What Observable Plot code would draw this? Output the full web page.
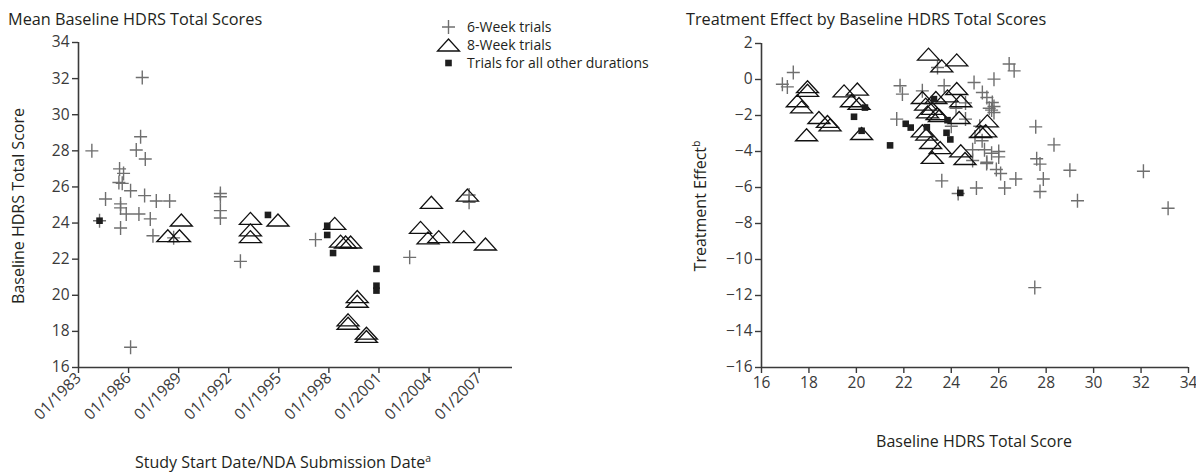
<!DOCTYPE html>
<html>
<head>
<meta charset="utf-8">
<script src="https://cdn.jsdelivr.net/npm/d3@7"></script>
<script src="https://cdn.jsdelivr.net/npm/@observablehq/plot@0.6"></script>
<style>
  body { margin: 0; background: #fff; }
  #wrap { position: relative; width: 1196px; height: 473px; overflow: hidden; font-family: "Open Sans", sans-serif; color: #231f20; }
  #wrap svg.plot { position: absolute; top: 0; }
  .t { position: absolute; white-space: nowrap; font-size: 16px; color: #231f20; line-height: 1; }
  .rot { transform: translate(-50%, -50%) rotate(-90deg); transform-origin: center; }
  sup { font-size: 0.65em; vertical-align: 0; position: relative; top: -0.55em; }
  [aria-label$="tick"] path { stroke-width: 1.4px; }
  #legend { position: absolute; left: 436px; top: 18px; font-size: 14px; }
  #legend div { position: relative; height: 18px; line-height: 18px; }
  #legend svg { position: absolute; left: 0; top: 0; }
  #legend span { position: absolute; left: 31px; top: 0; white-space: nowrap; }
</style>
</head>
<body>
<div id="wrap"></div>
<script>
// ---------- Data ----------
// Left panel: study start date (decimal year) vs mean baseline HDRS total score
const dates6 = [1983.80, 1986.82, 1986.72, 1986.46, 1987.00, 1985.46, 1985.70, 1985.42, 1985.62, 1984.62,
  1985.52, 1985.52, 1986.12, 1986.96, 1987.66, 1988.46, 1985.86, 1986.62, 1987.30, 1985.52,
  1987.46, 1984.26, 1988.70, 1986.12, 1991.50, 1991.50, 1991.50, 1991.50, 1992.70, 1997.20,
  2002.84, 2006.40, 2006.40];
const base6 = [28.0, 32.06, 28.78, 28.05, 27.55, 27.0, 26.75, 26.25, 26.2, 25.33,
  25.06, 24.84, 25.79, 25.52, 25.22, 25.22, 24.5, 24.5, 24.23, 23.73,
  23.3, 24.13, 23.18, 17.12, 25.64, 25.46, 24.69, 24.28, 21.88, 23.08,
  22.1, 25.55, 25.15];

const dates8 = [1989.16, 1988.35, 1989.05, 1993.30, 1993.30, 1993.30, 1994.95, 1998.35, 1998.70, 1999.00,
  1999.30, 1999.70, 1999.70, 1999.15, 1999.15, 2000.25, 2000.25, 2004.14, 2006.30, 2003.49,
  2003.94, 2004.58, 2006.08, 2007.38];
const base8 = [24.17, 23.3, 23.3, 24.26, 23.62, 23.25, 24.17, 23.98, 23.0, 22.95,
  22.95, 19.93, 19.67, 18.64, 18.45, 17.9, 17.72, 25.15, 25.55, 23.76,
  23.18, 23.25, 23.25, 22.84];

const datesOther = [1984.26, 1994.35, 1997.90, 1997.90, 1998.25, 2000.85, 2000.85, 2000.85];
const baseOther = [24.13, 24.45, 23.85, 23.34, 22.34, 21.46, 20.53, 20.26];

// Right panel: baseline HDRS total score vs treatment effect
const score6 = [16.88, 17.09, 17.34, 21.84, 21.94, 21.70, 22.78, 23.42, 23.70, 24.96,
  25.80, 26.44, 26.65, 25.31, 25.50, 25.73, 25.80, 25.70, 25.80, 25.60,
  24.60, 24.20, 24.00, 24.60, 25.20, 25.00, 25.30, 24.90, 25.40, 25.70,
  26.00, 25.50, 24.90, 26.00, 25.90, 25.49, 23.60, 24.29, 25.06, 26.08,
  26.25, 26.72, 27.56, 28.33, 27.60, 27.74, 27.88, 27.74, 29.00, 29.32,
  32.10, 33.14, 27.52];
const effect6 = [-0.26, -0.41, 0.39, -0.35, -0.81, -2.2, -0.63, 0.67, -0.35, -0.17,
  0.02, 0.86, 0.48, -0.72, -1.0, -1.28, -1.5, -1.7, -1.83, -1.6,
  -1.3, -1.6, -2.6, -2.2, -2.6, -3.2, -3.4, -3.9, -3.9, -4.1,
  -4.3, -4.6, -4.5, -4.0, -5.0, -4.67, -5.63, -6.33, -6.03, -5.22,
  -6.03, -5.53, -2.63, -3.63, -4.4, -4.7, -5.53, -6.22, -5.04, -6.74,
  -5.1, -7.15, -11.56];

const score8 = [17.94, 17.94, 17.51, 17.69, 18.42, 18.78, 18.89, 17.90, 19.48, 20.04,
  19.79, 20.11, 20.22, 23.04, 23.60, 24.23, 24.23, 22.78, 23.35, 23.84,
  24.40, 22.92, 23.20, 23.00, 23.40, 23.50, 24.33, 25.52, 25.45, 25.24,
  22.78, 22.97, 23.13, 23.53, 23.20, 24.40, 24.58];
const effect8 = [-0.4, -0.6, -1.18, -1.52, -2.11, -2.33, -2.52, -3.07, -0.63, -0.53,
  -1.18, -1.33, -3.0, 1.41, 0.76, 1.09, -0.5, -1.0, -1.0, -0.91,
  -1.18, -1.37, -1.6, -1.8, -1.9, -2.0, -2.11, -2.3, -2.85, -2.89,
  -2.85, -3.03, -3.5, -3.78, -4.33, -3.96, -4.39];

const scoreOther = [19.90, 20.36, 20.22, 21.42, 23.27, 22.08, 22.29, 22.97, 23.84, 23.80, 23.96, 24.38];
const effectOther = [-2.07, -1.56, -2.85, -3.66, -1.09, -2.46, -2.67, -2.65, -2.26, -2.96, -3.33, -6.3];

const yearTicks = [1983, 1986, 1989, 1992, 1995, 1998, 2001, 2004, 2007];
const leftYTicks = [16, 18, 20, 22, 24, 26, 28, 30, 32, 34];
const rightYTicks = [-16, -14, -12, -10, -8, -6, -4, -2, 0, 2];
const rightXTicks = [16, 18, 20, 22, 24, 26, 28, 30, 32, 34];

// ---------- Symbols ----------
const plusSym = { draw(ctx) { ctx.moveTo(-6.5, 0); ctx.lineTo(6.5, 0); ctx.moveTo(0, -7); ctx.lineTo(0, 7); } };
const triSym = { draw(ctx) { ctx.moveTo(0, -6); ctx.lineTo(11, 6); ctx.lineTo(-11, 6); ctx.closePath(); } };
const sqSym = { draw(ctx) { ctx.rect(-3.3, -3.3, 6.6, 6.6); } };

const PLUS_C = "#6f6f6f", TRI_C = "#111", SQ_C = "#1e1e1e", AXIS_C = "#3a3a3a";
const minus = d => d < 0 ? "\u2212" + Math.abs(d) : String(d);
const zip = (a, b) => a.map((v, i) => ({ x: v, y: b[i] }));

const wrap = document.getElementById("wrap");
const fontStyle = { fontFamily: "'Open Sans', sans-serif", fontSize: "15.5px", color: AXIS_C, background: "transparent", overflow: "visible" };

// ---------- Left panel ----------
const left = Plot.plot({
  width: 560, height: 473,
  marginLeft: 78, marginRight: 48, marginTop: 42, marginBottom: 106,
  style: fontStyle,
  x: { domain: [1983, 2009], ticks: yearTicks, tickFormat: d => "01/" + d, tickRotate: -45, tickSize: 6, tickPadding: 2, label: null },
  y: { domain: [16, 34], ticks: leftYTicks, tickSize: 6, tickPadding: 3, label: null },
  marks: [
    Plot.ruleX([1983], { stroke: AXIS_C, strokeWidth: 1.6 }),
    Plot.ruleY([16], { stroke: AXIS_C, strokeWidth: 1.6 }),
    Plot.dot(zip(dates6, base6), { x: "x", y: "y", symbol: plusSym, stroke: PLUS_C, fill: "none", strokeWidth: 1.4 }),
    Plot.dot(zip(dates8, base8), { x: "x", y: "y", symbol: triSym, stroke: TRI_C, fill: "none", strokeWidth: 1.3 }),
    Plot.dot(zip(datesOther, baseOther), { x: "x", y: "y", symbol: sqSym, fill: SQ_C, stroke: "none" })
  ]
});
left.classList.add("plot");
left.style.left = "0px";
wrap.appendChild(left);

// ---------- Right panel ----------
const right = Plot.plot({
  width: 596, height: 473,
  marginLeft: 161, marginRight: 8, marginTop: 43, marginBottom: 106,
  style: fontStyle,
  x: { domain: [16, 34], ticks: rightXTicks, tickSize: 6, tickPadding: 3, label: null },
  y: { domain: [-16, 2], ticks: rightYTicks, tickFormat: minus, tickSize: 6, tickPadding: 3, label: null },
  marks: [
    Plot.ruleX([16], { stroke: AXIS_C, strokeWidth: 1.6 }),
    Plot.ruleY([-16], { stroke: AXIS_C, strokeWidth: 1.6 }),
    Plot.dot(zip(score6, effect6), { x: "x", y: "y", symbol: plusSym, stroke: PLUS_C, fill: "none", strokeWidth: 1.4 }),
    Plot.dot(zip(score8, effect8), { x: "x", y: "y", symbol: triSym, stroke: TRI_C, fill: "none", strokeWidth: 1.3 }),
    Plot.dot(zip(scoreOther, effectOther), { x: "x", y: "y", symbol: sqSym, fill: SQ_C, stroke: "none" })
  ]
});
right.classList.add("plot");
right.style.left = "600px";
wrap.appendChild(right);

// ---------- Texts ----------
function addText(html, css, cls) {
  const d = document.createElement("div");
  d.className = "t " + (cls || "");
  d.innerHTML = html;
  Object.assign(d.style, css);
  wrap.appendChild(d);
  return d;
}
addText("Mean Baseline HDRS Total Scores", { left: "8px", top: "11px", fontSize: "16.3px" });
addText("Treatment Effect by Baseline HDRS Total Scores", { left: "686px", top: "11px", fontSize: "16.3px" });
addText("Baseline HDRS Total Score", { left: "18px", top: "206px" }, "rot");
addText("Treatment Effect<sup>b</sup>", { left: "700px", top: "206px" }, "rot");
addText("Baseline HDRS Total Score", { left: "974px", top: "441px", transform: "translate(-50%,-50%)" });
addText("Study Start Date/NDA Submission Date<sup>a</sup>", { left: "283px", top: "462px", transform: "translate(-50%,-50%)" });

// ---------- Legend ----------
const legend = document.createElement("div");
legend.id = "legend";
const items = [
  { label: "6-Week trials", draw: '<path d="M6,9H19M12.5,2V16" stroke="' + PLUS_C + '" stroke-width="1.4" fill="none"/>' },
  { label: "8-Week trials", draw: '<path d="M12.5,3L23.5,15L1.5,15Z" stroke="' + TRI_C + '" stroke-width="1.3" fill="none"/>' },
  { label: "Trials for all other durations", draw: '<rect x="9.2" y="5.7" width="6.6" height="6.6" fill="' + SQ_C + '"/>' }
];
for (const it of items) {
  const row = document.createElement("div");
  row.innerHTML = '<svg width="26" height="18">' + it.draw + '</svg><span>' + it.label + '</span>';
  legend.appendChild(row);
}
wrap.appendChild(legend);
</script>
</body>
</html>
